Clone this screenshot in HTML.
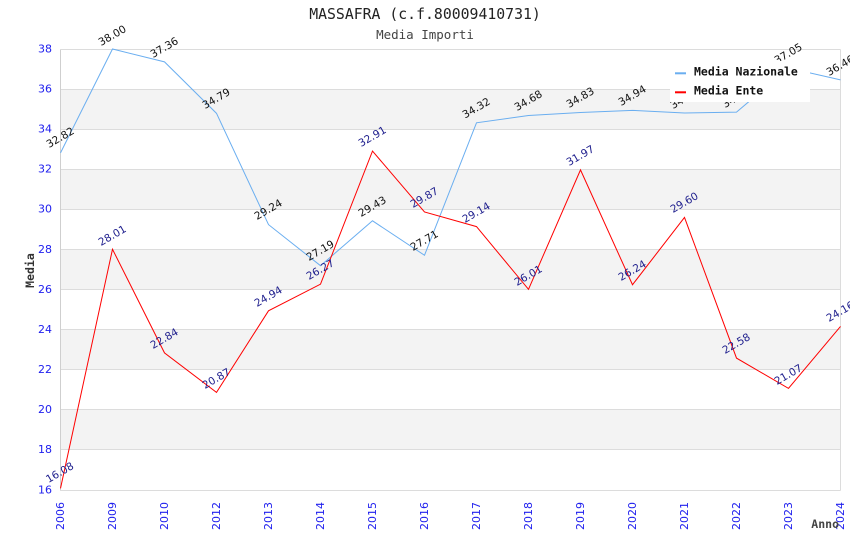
<!DOCTYPE html>
<html><head><meta charset="utf-8"><style>
html,body{margin:0;padding:0;background:#fff;}
svg{display:block;}
.vl{font-family:"DejaVu Sans","Liberation Sans",sans-serif;font-size:10.5px;}
.tk{font-family:"DejaVu Sans","Liberation Sans",sans-serif;font-size:11px;fill:#2020ee;}
.mono{font-family:"DejaVu Sans Mono","Liberation Mono",monospace;}
</style></head><body>
<svg width="850" height="550" viewBox="0 0 850 550" xmlns="http://www.w3.org/2000/svg">
<rect width="850" height="550" fill="#fff"/>
<text x="425" y="19" text-anchor="middle" class="mono" font-size="14.8" fill="#222">MASSAFRA (c.f.80009410731)</text>
<text x="425" y="39" text-anchor="middle" class="mono" font-size="12.5" fill="#444">Media Importi</text>
<!-- bands -->
<g fill="#f3f3f3">
<rect x="60.5" y="89.1" width="780" height="40.1"/>
<rect x="60.5" y="169.3" width="780" height="40.1"/>
<rect x="60.5" y="249.5" width="780" height="40.1"/>
<rect x="60.5" y="329.6" width="780" height="40.1"/>
<rect x="60.5" y="409.8" width="780" height="40.1"/>
</g>
<g stroke="#dcdcdc" stroke-width="1">
<line x1="60.5" x2="840.5" y1="49.5" y2="49.5"/>
<line x1="60.5" x2="840.5" y1="89.5" y2="89.5"/>
<line x1="60.5" x2="840.5" y1="129.5" y2="129.5"/>
<line x1="60.5" x2="840.5" y1="169.5" y2="169.5"/>
<line x1="60.5" x2="840.5" y1="209.5" y2="209.5"/>
<line x1="60.5" x2="840.5" y1="249.5" y2="249.5"/>
<line x1="60.5" x2="840.5" y1="289.5" y2="289.5"/>
<line x1="60.5" x2="840.5" y1="329.5" y2="329.5"/>
<line x1="60.5" x2="840.5" y1="369.5" y2="369.5"/>
<line x1="60.5" x2="840.5" y1="409.5" y2="409.5"/>
<line x1="60.5" x2="840.5" y1="449.5" y2="449.5"/>
<line x1="60.5" x2="840.5" y1="490.5" y2="490.5"/>
<line x1="840.5" x2="840.5" y1="49.5" y2="490.5"/>
<line x1="60.5" x2="60.5" y1="49.5" y2="490.5" stroke="#cfcfcf"/>
</g>
<!-- y ticks -->
<g class="tk" text-anchor="end" dominant-baseline="central">
<text x="52" y="49">38</text><text x="52" y="89">36</text><text x="52" y="129">34</text>
<text x="52" y="169">32</text><text x="52" y="209">30</text><text x="52" y="249.5">28</text>
<text x="52" y="289.5">26</text><text x="52" y="329.5">24</text><text x="52" y="369.5">22</text>
<text x="52" y="409.5">20</text><text x="52" y="449.5">18</text><text x="52" y="490">16</text>
</g>
<!-- x ticks -->
<g class="tk" text-anchor="end" dominant-baseline="central">
<text transform="translate(60.5,502) rotate(-90)">2006</text>
<text transform="translate(112.5,502) rotate(-90)">2009</text>
<text transform="translate(164.5,502) rotate(-90)">2010</text>
<text transform="translate(216.5,502) rotate(-90)">2012</text>
<text transform="translate(268.5,502) rotate(-90)">2013</text>
<text transform="translate(320.5,502) rotate(-90)">2014</text>
<text transform="translate(372.5,502) rotate(-90)">2015</text>
<text transform="translate(424.5,502) rotate(-90)">2016</text>
<text transform="translate(476.5,502) rotate(-90)">2017</text>
<text transform="translate(528.5,502) rotate(-90)">2018</text>
<text transform="translate(580.5,502) rotate(-90)">2019</text>
<text transform="translate(632.5,502) rotate(-90)">2020</text>
<text transform="translate(684.5,502) rotate(-90)">2021</text>
<text transform="translate(736.5,502) rotate(-90)">2022</text>
<text transform="translate(788.5,502) rotate(-90)">2023</text>
<text transform="translate(840.5,502) rotate(-90)">2024</text>
</g>
<text transform="translate(30,270.5) rotate(-90)" text-anchor="middle" dominant-baseline="central" class="mono" font-weight="bold" font-size="11.5" fill="#333">Media</text>
<text x="839" y="528" text-anchor="end" class="mono" font-weight="bold" font-size="11.5" fill="#444">Anno</text>
<!-- series -->
<polyline fill="none" stroke="#6aaef0" stroke-width="1" points="60.5,152.84 112.5,49.01 164.5,61.84 216.5,113.35 268.5,224.6 320.5,265.7 372.5,220.8 424.5,255.27 476.5,122.78 528.5,115.56 580.5,112.55 632.5,110.35 684.5,112.95 736.5,112.15 788.5,68.05 840.5,79.88"/>
<polyline fill="none" stroke="#ff0000" stroke-width="1" points="60.5,488.4 112.5,249.26 164.5,352.89 216.5,392.38 268.5,310.8 320.5,284.14 372.5,151.04 424.5,211.98 476.5,226.61 528.5,289.35 580.5,169.88 632.5,284.74 684.5,217.39 736.5,358.1 788.5,388.37 840.5,326.43"/>
<!-- labels nazionale -->
<g class="vl" fill="#111" text-anchor="middle" dominant-baseline="central">
<text transform="translate(60.5,138) rotate(-30)">32.82</text>
<text transform="translate(112.5,36) rotate(-30)">38.00</text>
<text transform="translate(164.5,48) rotate(-30)">37.36</text>
<text transform="translate(216.5,99) rotate(-30)">34.79</text>
<text transform="translate(268.5,210) rotate(-30)">29.24</text>
<text transform="translate(320.5,251) rotate(-30)">27.19</text>
<text transform="translate(372.5,207) rotate(-30)">29.43</text>
<text transform="translate(424.5,241) rotate(-30)">27.71</text>
<text transform="translate(476.5,108.5) rotate(-30)">34.32</text>
<text transform="translate(528.5,101) rotate(-30)">34.68</text>
<text transform="translate(580.5,98) rotate(-30)">34.83</text>
<text transform="translate(632.5,96) rotate(-30)">34.94</text>
<text transform="translate(684.5,99) rotate(-30)">34.81</text>
<text transform="translate(736.5,98) rotate(-30)">34.85</text>
<text transform="translate(788.5,54) rotate(-30)">37.05</text>
<text transform="translate(840.5,66) rotate(-30)">36.46</text>
</g>
<!-- labels ente -->
<g class="vl" fill="#1c1c8c" text-anchor="middle" dominant-baseline="central">
<text transform="translate(60,473) rotate(-30)">16.08</text>
<text transform="translate(112.5,236) rotate(-30)">28.01</text>
<text transform="translate(164.5,339) rotate(-30)">22.84</text>
<text transform="translate(216.5,379) rotate(-30)">20.87</text>
<text transform="translate(268.5,297) rotate(-30)">24.94</text>
<text transform="translate(320.5,270) rotate(-30)">26.27</text>
<text transform="translate(372.5,137) rotate(-30)">32.91</text>
<text transform="translate(424.5,198) rotate(-30)">29.87</text>
<text transform="translate(476.5,213) rotate(-30)">29.14</text>
<text transform="translate(528.5,276) rotate(-30)">26.01</text>
<text transform="translate(580.5,156) rotate(-30)">31.97</text>
<text transform="translate(632.5,271) rotate(-30)">26.24</text>
<text transform="translate(684.5,203) rotate(-30)">29.60</text>
<text transform="translate(736.5,344) rotate(-30)">22.58</text>
<text transform="translate(788.5,375) rotate(-30)">21.07</text>
<text transform="translate(840.5,312) rotate(-30)">24.16</text>
</g>
<!-- legend -->
<rect x="670" y="61" width="140" height="41" fill="#fff"/>
<rect x="675" y="72.3" width="11" height="2" fill="#6aaef0"/>
<rect x="675" y="91.3" width="11" height="2" fill="#ff0000"/>
<text x="694" y="75.5" class="mono" font-weight="bold" font-size="11.5" fill="#111">Media Nazionale</text>
<text x="694" y="94.5" class="mono" font-weight="bold" font-size="11.5" fill="#111">Media Ente</text>
</svg>
</body></html>
